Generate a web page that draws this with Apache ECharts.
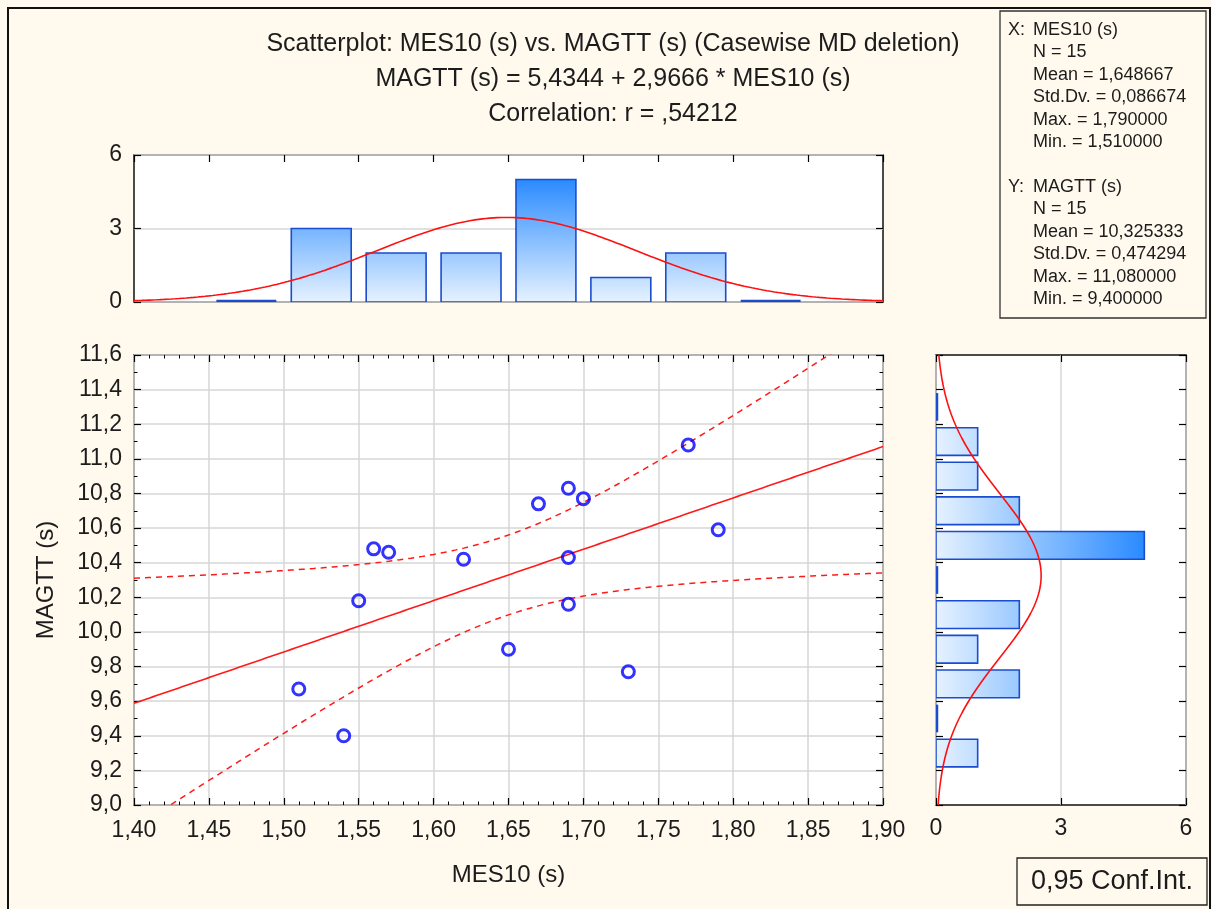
<!DOCTYPE html>
<html><head><meta charset="utf-8">
<script src="https://cdn.jsdelivr.net/npm/echarts@6/dist/echarts.min.js"></script>
<style>html,body{margin:0;padding:0;background:#fff9ee;} #c{width:1212px;height:909px;}</style>
</head><body><div id="c"></div>
<script>
// ---------------- data ----------------
const mes10 = [1.51,1.54,1.55,1.56,1.57,1.62,1.65,1.67,1.69,1.69,1.69,1.70,1.73,1.77,1.79];
const magtt = [9.67,9.40,10.18,10.48,10.46,10.42,9.90,10.74,10.83,10.43,10.16,10.77,9.77,11.08,10.59];

const xHistCenters = [1.475,1.525,1.575,1.625,1.675,1.725,1.775,1.825];
const xHistCounts  = [0,3,2,2,5,1,2,0];
const yHistCenters = [9.3,9.5,9.7,9.9,10.1,10.3,10.5,10.7,10.9,11.1,11.3];
const yHistCounts  = [1,0,2,1,2,0,5,2,1,1,0];

const xTickLabels = ['1,40','1,45','1,50','1,55','1,60','1,65','1,70','1,75','1,80','1,85','1,90'];
const yTickLabels = ['9,0','9,2','9,4','9,6','9,8','10,0','10,2','10,4','10,6','10,8','11,0','11,2','11,4','11,6'];
const topHistTicks = ['0','3','6'];
const rightHistTicks = ['0','3','6'];

const titleLines = [
  'Scatterplot: MES10 (s) vs. MAGTT (s) (Casewise MD deletion)',
  'MAGTT (s) = 5,4344 + 2,9666 * MES10 (s)',
  'Correlation: r = ,54212'
];
const statsXHead = 'MES10 (s)';
const statsXLines = ['N = 15','Mean = 1,648667','Std.Dv. = 0,086674','Max. = 1,790000','Min. = 1,510000'];
const statsYHead = 'MAGTT (s)';
const statsYLines = ['N = 15','Mean = 10,325333','Std.Dv. = 0,474294','Max. = 11,080000','Min. = 9,400000'];
const confLabel = '0,95 Conf.Int.';
const xName = 'MES10 (s)';
const yName = 'MAGTT (s)';
const T_975_DF13 = 2.160369;

// ---------------- derived statistics ----------------
const n = mes10.length;
const mean = a => a.reduce((s,v)=>s+v,0)/a.length;
const mx = mean(mes10), my = mean(magtt);
let sxx=0, syy=0, sxy=0;
for (let i=0;i<n;i++){ sxx+=(mes10[i]-mx)**2; syy+=(magtt[i]-my)**2; sxy+=(mes10[i]-mx)*(magtt[i]-my); }
const sdx = Math.sqrt(sxx/(n-1)), sdy = Math.sqrt(syy/(n-1));
const slope = sxy/sxx, icpt = my - slope*mx;
let sse=0; for (let i=0;i<n;i++){ sse += (magtt[i]-(icpt+slope*mes10[i]))**2; }
const se = Math.sqrt(sse/(n-2));
const xBinW = xHistCenters[1]-xHistCenters[0];
const yBinW = yHistCenters[1]-yHistCenters[0];

const XMIN=1.40, XMAX=1.90, XINT=0.05, YMIN=9.0, YMAX=11.6, YINT=0.2;

const fitLine=[], ciUp=[], ciLo=[], xCurve=[], yCurve=[];
for (let k=0;k<=200;k++){
  const x = XMIN + (XMAX-XMIN)*k/200;
  const yh = icpt + slope*x;
  const h = T_975_DF13*se*Math.sqrt(1/n + (x-mx)**2/sxx);
  fitLine.push([x,yh]); ciUp.push([x,yh+h]); ciLo.push([x,yh-h]);
  const zx=(x-mx)/sdx;
  xCurve.push([x, n*xBinW*Math.exp(-zx*zx/2)/(sdx*Math.sqrt(2*Math.PI))]);
  const y = YMIN + (YMAX-YMIN)*k/200;
  const zy=(y-my)/sdy;
  yCurve.push([n*yBinW*Math.exp(-zy*zy/2)/(sdy*Math.sqrt(2*Math.PI)), y]);
}

// ---------------- chart ----------------
const FONT = 'Liberation Sans, Arial, sans-serif';
const TXT = '#1c1c1c';
const BAR_BORDER = '#1a4ccf';
const chart = echarts.init(document.getElementById('c'), null, {renderer:'canvas'});

const tickStyle = {show:true, inside:true, length:7, lineStyle:{color:'#000', width:1.2}};
const minorStyle = (sn)=>({show:true, splitNumber:sn, length:3.5, lineStyle:{color:'#000', width:1}});
const gridLine = {show:true, lineStyle:{color:'#d6d6d6', width:1.5}};
const noLine = {show:false, onZero:false};
const lbl = {color:TXT, fontFamily:FONT, fontSize:23};

function histRenderer(vertical, binW, maxRef){
  return function(params, api){
    const c = api.value(vertical?0:1), cnt = api.value(vertical?1:0);
    const a = c - binW*0.4, b = c + binW*0.4;
    if (vertical){
      const p0 = api.coord([a,0]), p1 = api.coord([b,cnt]);
      const g0 = api.coord([c,0])[1], g1 = api.coord([c,maxRef])[1];
      if (cnt===0){
        return {type:'line', shape:{x1:p0[0],y1:p0[1]-1,x2:p1[0],y2:p0[1]-1}, style:{stroke:BAR_BORDER, lineWidth:2.5}};
      }
      return {type:'rect', shape:{x:p0[0], y:p1[1], width:p1[0]-p0[0], height:p0[1]-p1[1]},
        style:{fill:new echarts.graphic.LinearGradient(0,g0,0,g1,[{offset:0,color:'#e6f2ff'},{offset:1,color:'#2a8bff'}],true),
               stroke:BAR_BORDER, lineWidth:1.6}};
    } else {
      const p0 = api.coord([0,a]), p1 = api.coord([cnt,b]);
      const g0 = api.coord([0,c])[0], g1 = api.coord([maxRef,c])[0];
      if (cnt===0){
        return {type:'line', shape:{x1:p0[0]+1,y1:p0[1],x2:p0[0]+1,y2:p1[1]}, style:{stroke:BAR_BORDER, lineWidth:2.5}};
      }
      return {type:'rect', shape:{x:p0[0], y:p1[1], width:p1[0]-p0[0], height:p0[1]-p1[1]},
        style:{fill:new echarts.graphic.LinearGradient(g0,0,g1,0,[{offset:0,color:'#e6f2ff'},{offset:1,color:'#2a8bff'}],true),
               stroke:BAR_BORDER, lineWidth:1.6}};
    }
  };
}

const gridBase = {show:true, backgroundColor:'#ffffff', borderColor:'#111', borderWidth:1.5, containLabel:false, outerBoundsMode:'none'};

const statsGraphics = [];
const sx0 = 1008, sx1 = 1033, lineH = 22.4;
const SF = '18px '+FONT;
statsGraphics.push({type:'text', x:sx0, y:30, style:{text:'X:', fill:TXT, font:SF, textVerticalAlign:'middle'}});
statsGraphics.push({type:'text', x:sx1, y:30, style:{text:statsXHead, fill:TXT, font:SF, textVerticalAlign:'middle'}});
statsXLines.forEach((t,i)=>statsGraphics.push({type:'text', x:sx1, y:30+lineH*(i+1), style:{text:t, fill:TXT, font:SF, textVerticalAlign:'middle'}}));
statsGraphics.push({type:'text', x:sx0, y:187, style:{text:'Y:', fill:TXT, font:SF, textVerticalAlign:'middle'}});
statsGraphics.push({type:'text', x:sx1, y:187, style:{text:statsYHead, fill:TXT, font:SF, textVerticalAlign:'middle'}});
statsYLines.forEach((t,i)=>statsGraphics.push({type:'text', x:sx1, y:187+lineH*(i+1), style:{text:t, fill:TXT, font:SF, textVerticalAlign:'middle'}}));

const TF = '25px '+FONT;
const option = {
  backgroundColor:'#fff9ee',
  animation:false,
  grid:[
    Object.assign({left:134, top:155, width:749, height:147}, gridBase),
    Object.assign({left:134, top:355, width:749, height:450}, gridBase),
    Object.assign({left:936, top:355, width:250, height:450}, gridBase)
  ],
  xAxis:[
    {gridIndex:0, type:'value', min:XMIN, max:XMAX, interval:XINT, position:'top',
     axisLine:noLine, axisTick:tickStyle, axisLabel:{show:false}, splitLine:{show:false}},
    {gridIndex:1, type:'value', min:XMIN, max:XMAX, interval:XINT, position:'bottom',
     axisLine:noLine, axisTick:tickStyle, minorTick:minorStyle(5), splitLine:gridLine,
     axisLabel:Object.assign({margin:14, formatter:v=>xTickLabels[Math.round((v-XMIN)/XINT)]}, lbl),
     name:xName, nameLocation:'middle', nameGap:58, nameTextStyle:{color:TXT, fontFamily:FONT, fontSize:24}},
    {gridIndex:1, type:'value', min:XMIN, max:XMAX, interval:XINT, position:'top',
     axisLine:noLine, axisTick:tickStyle, minorTick:minorStyle(5), axisLabel:{show:false}, splitLine:{show:false}},
    {gridIndex:2, type:'value', min:0, max:6, interval:3, position:'bottom',
     axisLine:noLine, axisTick:tickStyle, splitLine:gridLine,
     axisLabel:Object.assign({margin:12, formatter:v=>rightHistTicks[Math.round(v/3)]}, lbl)},
    {gridIndex:2, type:'value', min:0, max:6, interval:3, position:'top',
     axisLine:noLine, axisTick:tickStyle, axisLabel:{show:false}, splitLine:{show:false}}
  ],
  yAxis:[
    {gridIndex:0, type:'value', min:0, max:6, interval:3, position:'left',
     axisLine:noLine, axisTick:tickStyle, splitLine:gridLine,
     axisLabel:Object.assign({margin:12, formatter:v=>topHistTicks[Math.round(v/3)]}, lbl)},
    {gridIndex:0, type:'value', min:0, max:6, interval:3, position:'right',
     axisLine:noLine, axisTick:tickStyle, axisLabel:{show:false}, splitLine:{show:false}},
    {gridIndex:1, type:'value', min:YMIN, max:YMAX, interval:YINT, position:'left',
     axisLine:noLine, axisTick:tickStyle, minorTick:minorStyle(2), splitLine:gridLine,
     axisLabel:Object.assign({margin:12, formatter:v=>yTickLabels[Math.round((v-YMIN)/YINT)]}, lbl),
     name:yName, nameLocation:'middle', nameGap:76, nameRotate:90, nameTextStyle:{color:TXT, fontFamily:FONT, fontSize:24}},
    {gridIndex:1, type:'value', min:YMIN, max:YMAX, interval:YINT, position:'right',
     axisLine:noLine, axisTick:tickStyle, minorTick:minorStyle(2), axisLabel:{show:false}, splitLine:{show:false}},
    {gridIndex:2, type:'value', min:YMIN, max:YMAX, interval:YINT, position:'left',
     axisLine:noLine, axisTick:tickStyle, axisLabel:{show:false}, splitLine:{show:false}},
    {gridIndex:2, type:'value', min:YMIN, max:YMAX, interval:YINT, position:'right',
     axisLine:noLine, axisTick:tickStyle, axisLabel:{show:false}, splitLine:{show:false}}
  ],
  series:[
    {type:'custom', xAxisIndex:0, yAxisIndex:0, renderItem:histRenderer(true, xBinW, 5),
     data:xHistCenters.map((c,i)=>[c, xHistCounts[i]]), encode:{x:0,y:1}, clip:true, z:2},
    {type:'line', xAxisIndex:0, yAxisIndex:0, data:xCurve, showSymbol:false, symbol:'none',
     lineStyle:{color:'#ff1010', width:1.6}, z:3, clip:true},
    {type:'line', xAxisIndex:1, yAxisIndex:2, data:ciUp, showSymbol:false, symbol:'none',
     lineStyle:{color:'#ff1a1a', width:1.5, type:[6,5]}, z:3, clip:true},
    {type:'line', xAxisIndex:1, yAxisIndex:2, data:ciLo, showSymbol:false, symbol:'none',
     lineStyle:{color:'#ff1a1a', width:1.5, type:[6,5]}, z:3, clip:true},
    {type:'line', xAxisIndex:1, yAxisIndex:2, data:fitLine, showSymbol:false, symbol:'none',
     lineStyle:{color:'#ff1a1a', width:1.6}, z:3, clip:true},
    {type:'scatter', xAxisIndex:1, yAxisIndex:2, data:mes10.map((x,i)=>[x, magtt[i]]),
     symbol:'circle', symbolSize:12, itemStyle:{color:'rgba(0,0,0,0)', borderColor:'#0000ff', borderWidth:3}, z:5},
    {type:'custom', xAxisIndex:3, yAxisIndex:4, renderItem:histRenderer(false, yBinW, 5),
     data:yHistCenters.map((c,i)=>[yHistCounts[i], c]), encode:{x:0,y:1}, clip:true, z:2},
    {type:'line', xAxisIndex:3, yAxisIndex:4, data:yCurve, showSymbol:false, symbol:'none',
     lineStyle:{color:'#ff1010', width:1.6}, z:3, clip:true}
  ],
  graphic:[
    {type:'rect', shape:{x:8, y:8, width:1202, height:920}, style:{fill:'none', stroke:'#111', lineWidth:2}, z:100},
    {type:'text', x:613, y:44, style:{text:titleLines[0], fill:TXT, font:TF, textAlign:'center', textVerticalAlign:'middle'}},
    {type:'text', x:613, y:79, style:{text:titleLines[1], fill:TXT, font:TF, textAlign:'center', textVerticalAlign:'middle'}},
    {type:'text', x:613, y:114, style:{text:titleLines[2], fill:TXT, font:TF, textAlign:'center', textVerticalAlign:'middle'}},
    {type:'rect', shape:{x:1000, y:11, width:206, height:307}, style:{fill:'none', stroke:'#333', lineWidth:1.3}},
    ...statsGraphics,
    {type:'rect', shape:{x:1017, y:858, width:190, height:47}, style:{fill:'none', stroke:'#222', lineWidth:1.3}},
    {type:'text', x:1112, y:882, style:{text:confLabel, fill:TXT, font:'27px '+FONT, textAlign:'center', textVerticalAlign:'middle'}}
  ]
};
chart.setOption(option);
</script>
</body></html>
